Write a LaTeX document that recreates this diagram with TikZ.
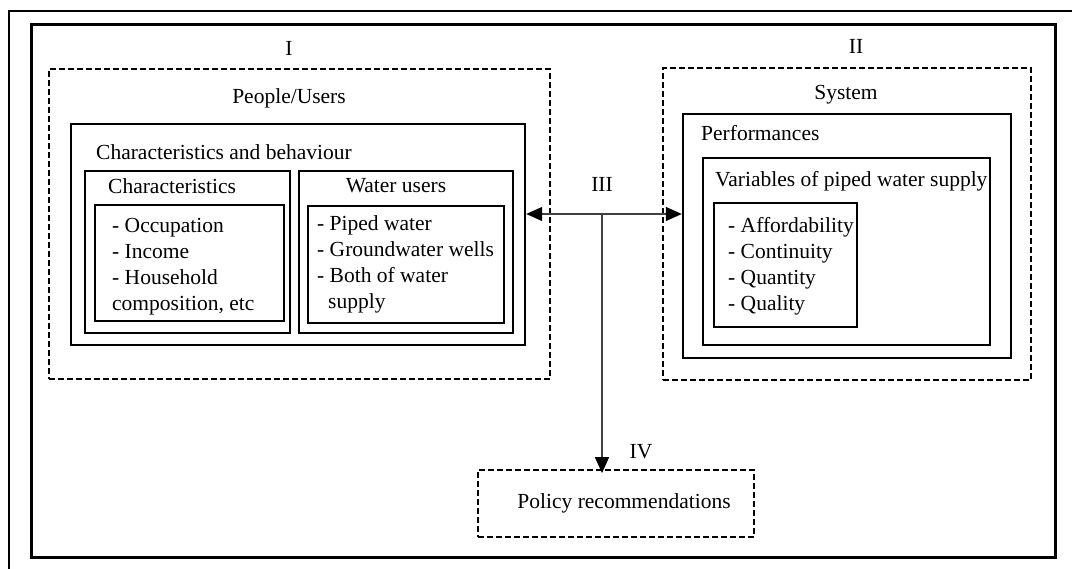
\documentclass[tikz,border=0pt]{standalone}
\usepackage{fontspec}
\setmainfont{Liberation Serif}
\usetikzlibrary{arrows.meta,fit}

\tikzset{
  frameline/.style={line width=2.6pt, black},
  solidbox/.style={draw, line width=2.4pt, inner sep=0pt, fit={#1}},
  dashbox/.style={draw, line width=1.8pt, dash pattern=on 6pt off 3pt, inner sep=0pt, fit={#1}},
  lbl/.style={inner sep=0pt, font=\fontsize{21.5}{26}\selectfont},
  list/.style={lbl, align=left, anchor=base west},
  tip/.tip={Triangle[length=16pt,width=14pt,fill=black,color=black]},
  link/.style={line width=1.3pt, draw=black!75, -tip},
  linkboth/.style={line width=1.3pt, draw=black!75, tip-tip}
}

\begin{document}
\begin{tikzpicture}[x=1pt, y=-1pt]
  \useasboundingbox (0,0) rectangle (1072,569);

  % page rules and framed panel
  \draw[frameline] (9,569) -- (9,11) -- (1072,11);
  \node[solidbox={(31,25) (1055,557)}, line width=3pt] (panel) {};

  % I: people / users
  \node[lbl] (tI) at (289,48) {I};
  \node[dashbox={(49,69) (550,379)}] (people) {};
  \node[lbl] (tpeople) at (289,98) {People/Users};
  \node[solidbox={(71,124) (525,345)}] (behav) {};
  \node[lbl, anchor=west] (tbehav) at (96,152) {Characteristics and behaviour};

  \node[solidbox={(85,171) (290,333)}] (charbox) {};
  \node[lbl, anchor=west] (tchar) at (108,186) {Characteristics};
  \node[solidbox={(95,205) (284,321)}] (charlist) {};
  % list nodes are anchored at the baseline of their last line
  \node[list] (tcharlist) at (112,311) {- Occupation\\- Income\\- Household\\composition, etc};

  \node[solidbox={(299,171) (513,333)}] (usebox) {};
  \node[lbl] (tuse) at (396,186) {Water users};
  \node[solidbox={(308,206) (504,323)}] (uselist) {};
  \node[list] (tuselist) at (317,309) {- Piped water\\- Groundwater wells\\- Both of water\\\hspace*{11pt}supply};

  % II: system
  \node[lbl] (tII) at (856,46) {II};
  \node[dashbox={(663,68) (1031,380)}] (system) {};
  \node[lbl] (tsystem) at (846,95) {System};
  \node[solidbox={(683,114) (1011,358)}] (perf) {};
  \node[lbl, anchor=west] (tperf) at (701,133) {Performances};
  \node[solidbox={(703,158) (990,345)}] (vars) {};
  \node[lbl, anchor=west] (tvars) at (715,181) {Variables of piped water supply};
  \node[solidbox={(714,203) (857,327)}] (varlist) {};
  \node[list] (tvarlist) at (728,311) {- Affordability\\- Continuity\\- Quantity\\- Quality};

  % IV: policy recommendations
  \node[lbl] (tIV) at (641,452) {IV};
  \node[dashbox={(478,470) (754,537)}] (policy) {};
  \node[lbl] (tpolicy) at (624,503) {Policy recommendations};

  % III: interaction and its outcome
  \coordinate (hub) at (602,214);
  \node[lbl] (tIII) at (602,184) {III};
  \draw[linkboth] (behav.east |- hub) -- (perf.west |- hub);
  \draw[link] (hub) -- ([yshift=-4pt]policy.north -| hub);
\end{tikzpicture}
\end{document}
